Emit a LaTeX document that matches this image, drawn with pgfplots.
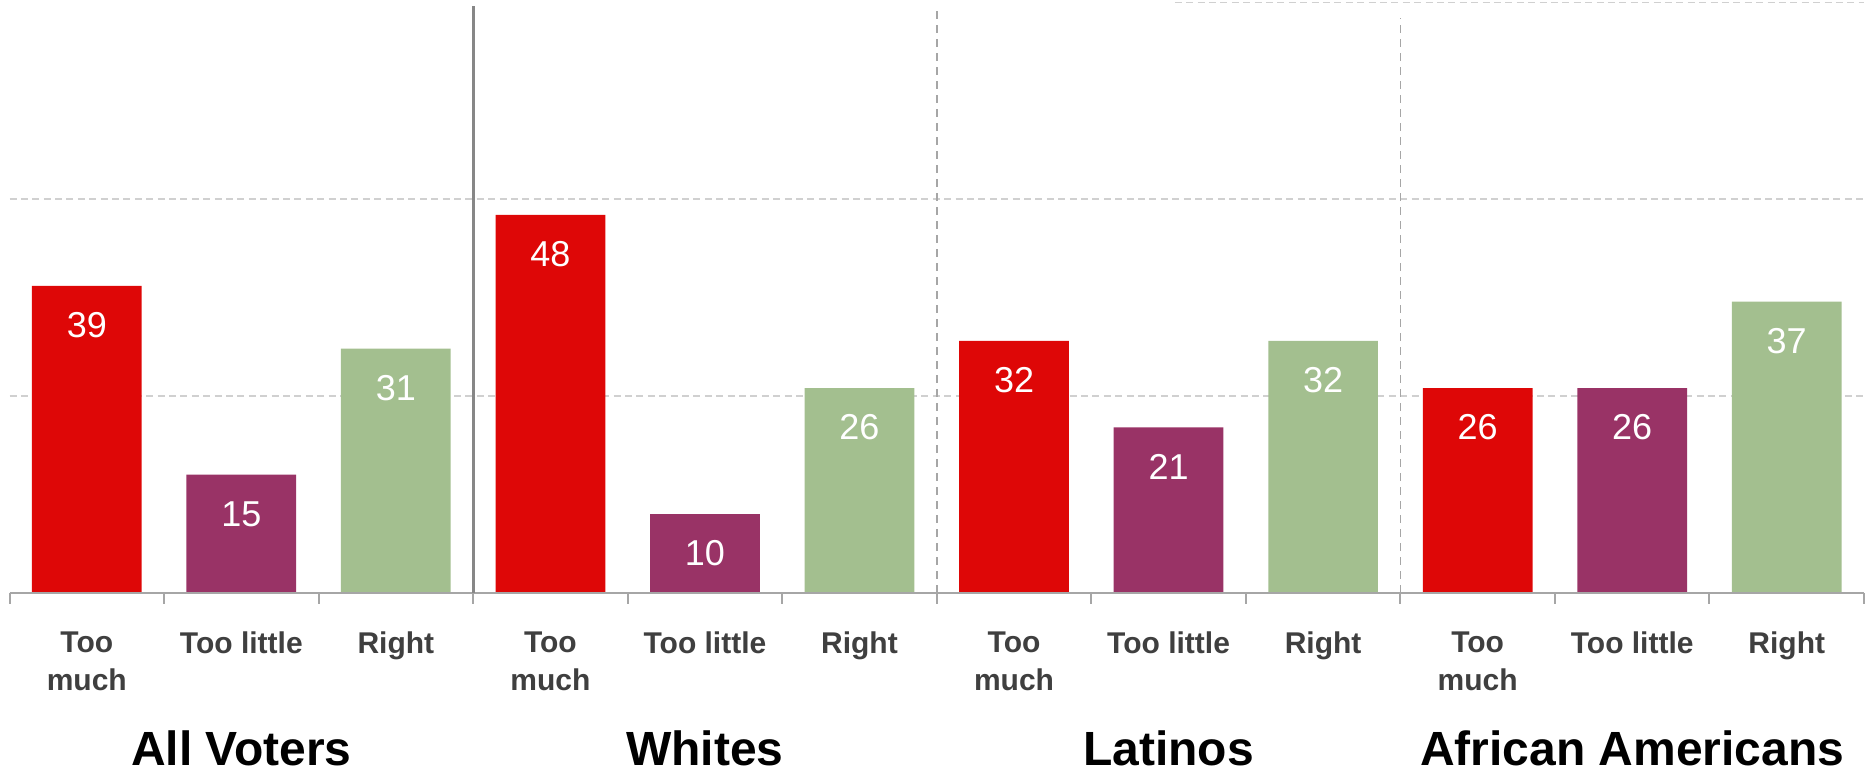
\documentclass[border=0pt]{standalone}
\usepackage{pgfplots}
\pgfplotsset{compat=1.18}
\usepackage{fontspec}
\setmainfont{Liberation Sans}
\definecolor{cred}{HTML}{DE0707}
\definecolor{cpurple}{HTML}{993366}
\definecolor{cgreen}{HTML}{A3BF8F}
\definecolor{axgray}{HTML}{A6A6A6}
\definecolor{sepgray}{HTML}{878787}
\definecolor{gridgray}{HTML}{D0D0D0}
\definecolor{labgray}{HTML}{3F3F3F}
\begin{document}
\begin{tikzpicture}
\begin{axis}[
  width=927.3pt, height=295.2pt, scale only axis,
  xmin=-0.5, xmax=11.5, ymin=0, ymax=75,
  clip=false,
  /pgf/number format/assume math mode=true,
  ybar, bar width=0.71, /pgf/bar shift=0pt,
  axis line style={draw=none},
  xtick pos=bottom, ytick pos=left,
  xtick={0,...,11},
  xticklabels={Too\\much,Too little,Right,Too\\much,Too little,Right,Too\\much,Too little,Right,Too\\much,Too little,Right},
  minor xtick={-0.5,0.5,...,11.5},
  major tick length=0pt, minor tick length=5.5pt,
  tick align=outside,
  minor tick style={axgray, line width=1pt},
  ytick={25,50}, yticklabels={}, yticklabel style={overlay},
  ymajorgrids,
  major grid style={gridgray, line width=0.8pt, dash pattern=on 3.5pt off 2.2pt},
  xticklabel style={font=\fontsize{15}{19}\selectfont\bfseries, text=labgray, align=center, anchor=north, yshift=-16pt},
  nodes near coords,
  every node near coord/.append style={font=\fontsize{18}{20}\selectfont, text=white, anchor=center, yshift=-19.7pt},
]
\addplot[fill=cred, draw=none] coordinates {(0,39) (3,48) (6,32) (9,26)};
\addplot[fill=cpurple, draw=none] coordinates {(1,15) (4,10) (7,21) (10,26)};
\addplot[fill=cgreen, draw=none] coordinates {(2,31) (5,26) (8,32) (11,37)};
\draw[axgray, line width=1.2pt] (axis cs:-0.5,0) -- (axis cs:11.5,0);
\draw[sepgray, line width=1.5pt] (axis cs:2.5,0) -- (axis cs:2.5,74.6);
\draw[axgray, line width=0.8pt, dash pattern=on 4pt off 3pt] (axis cs:5.5,0) -- (axis cs:5.5,74);
\draw[axgray, line width=0.8pt, dash pattern=on 4pt off 3pt] (axis cs:8.5,0) -- (axis cs:8.5,73);
\draw[gridgray, line width=0.8pt, dash pattern=on 3.5pt off 2.2pt] (axis cs:7.04,75) -- (axis cs:11.5,75);
\node[font=\fontsize{24}{28}\selectfont\bfseries, inner sep=0pt, yshift=-78pt] at (axis cs:1,0) {All Voters};
\node[font=\fontsize{24}{28}\selectfont\bfseries, inner sep=0pt, yshift=-78pt] at (axis cs:4,0) {Whites};
\node[font=\fontsize{24}{28}\selectfont\bfseries, inner sep=0pt, yshift=-78pt] at (axis cs:7,0) {Latinos};
\node[font=\fontsize{24}{28}\selectfont\bfseries, inner sep=0pt, yshift=-78pt] at (axis cs:10,0) {African Americans};
\path (axis cs:-0.5,0) ++(-4.75pt,-92.3pt);
\path (axis cs:11.5,75) ++(2.5pt,1.2pt);
\end{axis}
\end{tikzpicture}
\end{document}
